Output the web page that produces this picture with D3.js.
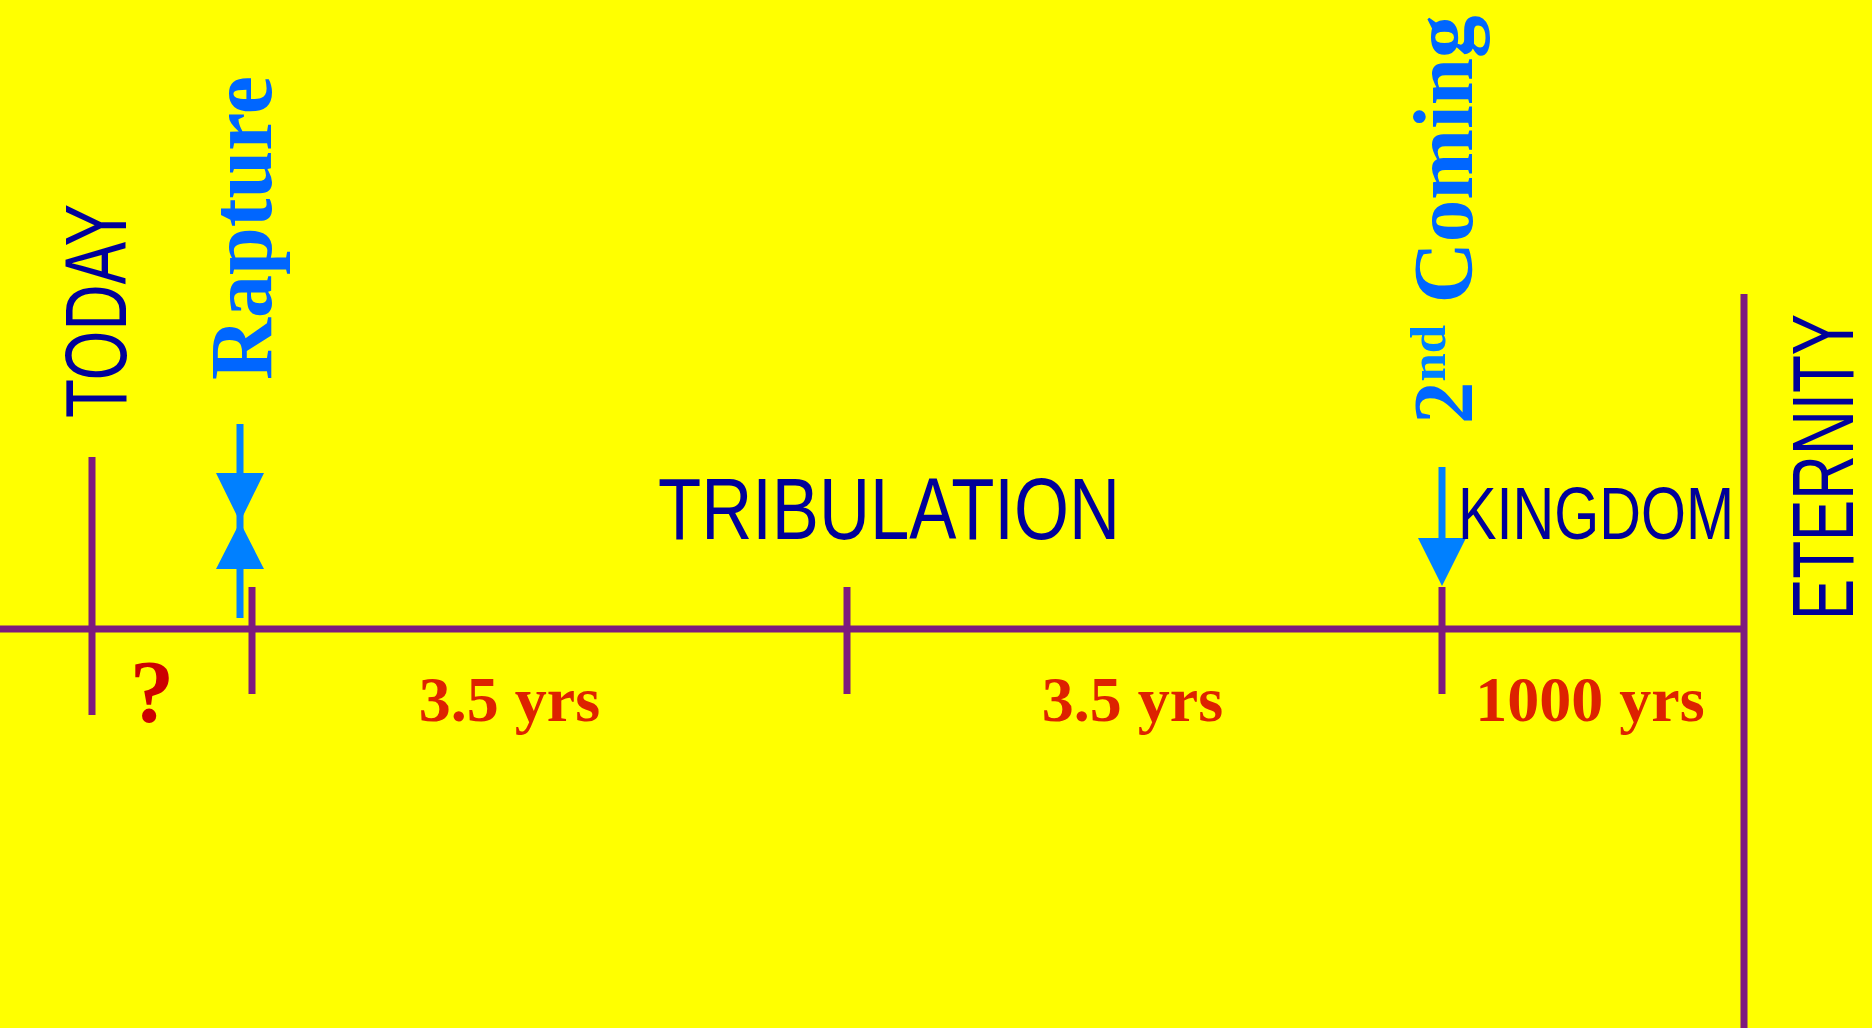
<!DOCTYPE html>
<html>
<head>
<meta charset="utf-8">
<script src="https://cdn.jsdelivr.net/npm/d3@7"></script>
<style>
  html, body { margin: 0; padding: 0; background: #ffff00; }
  svg { display: block; }
</style>
</head>
<body>
<svg id="chart"></svg>
<script>
// timeline data (years, relative to the rapture)
const eventNames = ['TODAY', 'Rapture', 'Midpoint', '2nd Coming', 'ETERNITY'];
const eventYears = [-1, 0, 3.5, 7, 1007];
const periodLabels = ['?', '3.5 yrs', '3.5 yrs', '1000 yrs'];
const periodStart = [-1, 0, 3.5, 7];
const periodEnd = [0, 3.5, 7, 1007];
const eraNames = ['TRIBULATION', 'KINGDOM'];
const eraStart = [0, 7];

const width = 1872, height = 1028;
const axisY = 629;
const purple = '#7d1b7e', navy = '#000099', sky = '#0080ff', skyText = '#0066ff', red = '#dd2200';

const svg = d3.select('#chart').attr('width', width).attr('height', height);
svg.append('rect').attr('width', width).attr('height', height).attr('fill', '#ffff00');

// piecewise scale: the segments are not drawn to a common time scale
const x = d3.scaleLinear()
  .domain(eventYears)
  .range([92, 252, 847, 1442, 1744]);

// main line
svg.append('line')
  .attr('x1', 0).attr('x2', x(eventYears[4]))
  .attr('y1', axisY).attr('y2', axisY)
  .attr('stroke', purple).attr('stroke-width', 7);

// ticks
const tickTop = [457, 587, 587, 587, 294];
const tickBottom = [715, 694, 694, 694, height];
svg.selectAll('line.tick')
  .data(eventYears)
  .enter().append('line')
  .attr('class', 'tick')
  .attr('x1', d => x(d)).attr('x2', d => x(d))
  .attr('y1', (d, i) => tickTop[i]).attr('y2', (d, i) => tickBottom[i])
  .attr('stroke', purple).attr('stroke-width', 7);

// rapture arrows (stem + two triangles meeting at a point)
const rx = x(eventYears[1]) - 12;
svg.append('line')
  .attr('x1', rx).attr('x2', rx).attr('y1', 424).attr('y2', 618)
  .attr('stroke', sky).attr('stroke-width', 7);
svg.append('path')
  .attr('d', `M${rx - 24},473 L${rx + 24},473 L${rx},522 Z M${rx - 24},569 L${rx + 24},569 L${rx},522 Z`)
  .attr('fill', sky);

// 2nd coming arrow
const cx = x(eventYears[3]);
svg.append('line')
  .attr('x1', cx).attr('x2', cx).attr('y1', 467).attr('y2', 545)
  .attr('stroke', sky).attr('stroke-width', 7);
svg.append('path')
  .attr('d', `M${cx - 24},538 L${cx + 24},538 L${cx},586 Z`)
  .attr('fill', sky);

// period labels below the line
const labelNudge = [-20, -40, -12, -3];
svg.selectAll('text.period')
  .data(periodLabels)
  .enter().append('text')
  .attr('class', 'period')
  .attr('x', (d, i) => (x(periodStart[i]) + x(periodEnd[i])) / 2 + labelNudge[i])
  .attr('y', 721)
  .attr('text-anchor', 'middle')
  .attr('font-family', '"Liberation Serif", "Times New Roman", serif')
  .attr('font-weight', 'bold')
  .attr('font-size', (d, i) => i === 0 ? 88 : 64)
  .attr('fill', (d, i) => i === 0 ? '#cc0000' : red)
  .text(d => d);

// era labels above the line
const eraLength = [462, 276];
const eraSize = [87, 75];
const eraDx = [406, 16];
svg.selectAll('text.era')
  .data(eraNames)
  .enter().append('text')
  .attr('class', 'era')
  .attr('x', (d, i) => x(eraStart[i]) + eraDx[i])
  .attr('y', 539)
  .attr('font-family', '"Liberation Sans Narrow", "Liberation Sans", sans-serif')
  .attr('font-size', (d, i) => eraSize[i])
  .attr('textLength', (d, i) => eraLength[i])
  .attr('lengthAdjust', 'spacingAndGlyphs')
  .attr('fill', navy)
  .text(d => d);

// vertical labels
function vlabel(tx, ty, txt, opts) {
  return svg.append('text')
    .attr('transform', `translate(${tx},${ty}) rotate(-90)`)
    .attr('font-family', opts.family)
    .attr('font-weight', opts.weight || 'normal')
    .attr('font-size', opts.size)
    .attr('fill', opts.fill)
    .attr('textLength', opts.len)
    .attr('lengthAdjust', 'spacingAndGlyphs')
    .text(txt);
}
const sansNarrow = '"Liberation Sans Narrow", "Liberation Sans", sans-serif';
const serif = '"Liberation Serif", "Times New Roman", serif';

vlabel(x(eventYears[0]) + 34, 418, eventNames[0], { family: sansNarrow, size: 87, fill: navy, len: 214 });
vlabel(x(eventYears[4]) + 109, 620, eventNames[4], { family: sansNarrow, size: 88, fill: navy, len: 306 });
vlabel(x(eventYears[1]) + 19, 380, eventNames[1], { family: serif, weight: 'bold', size: 88, fill: skyText, len: 304 });

// 2nd Coming with superscript
const sc = svg.append('text')
  .attr('transform', `translate(${x(eventYears[3]) + 30},424) rotate(-90)`)
  .attr('font-family', serif)
  .attr('font-weight', 'bold')
  .attr('font-size', 85)
  .attr('fill', skyText);
sc.append('tspan').text('2');
sc.append('tspan').attr('font-size', 51).attr('dy', -27).attr('fill', sky).text('nd');
sc.append('tspan').attr('dy', 27).text(' Coming');
</script>
</body>
</html>
